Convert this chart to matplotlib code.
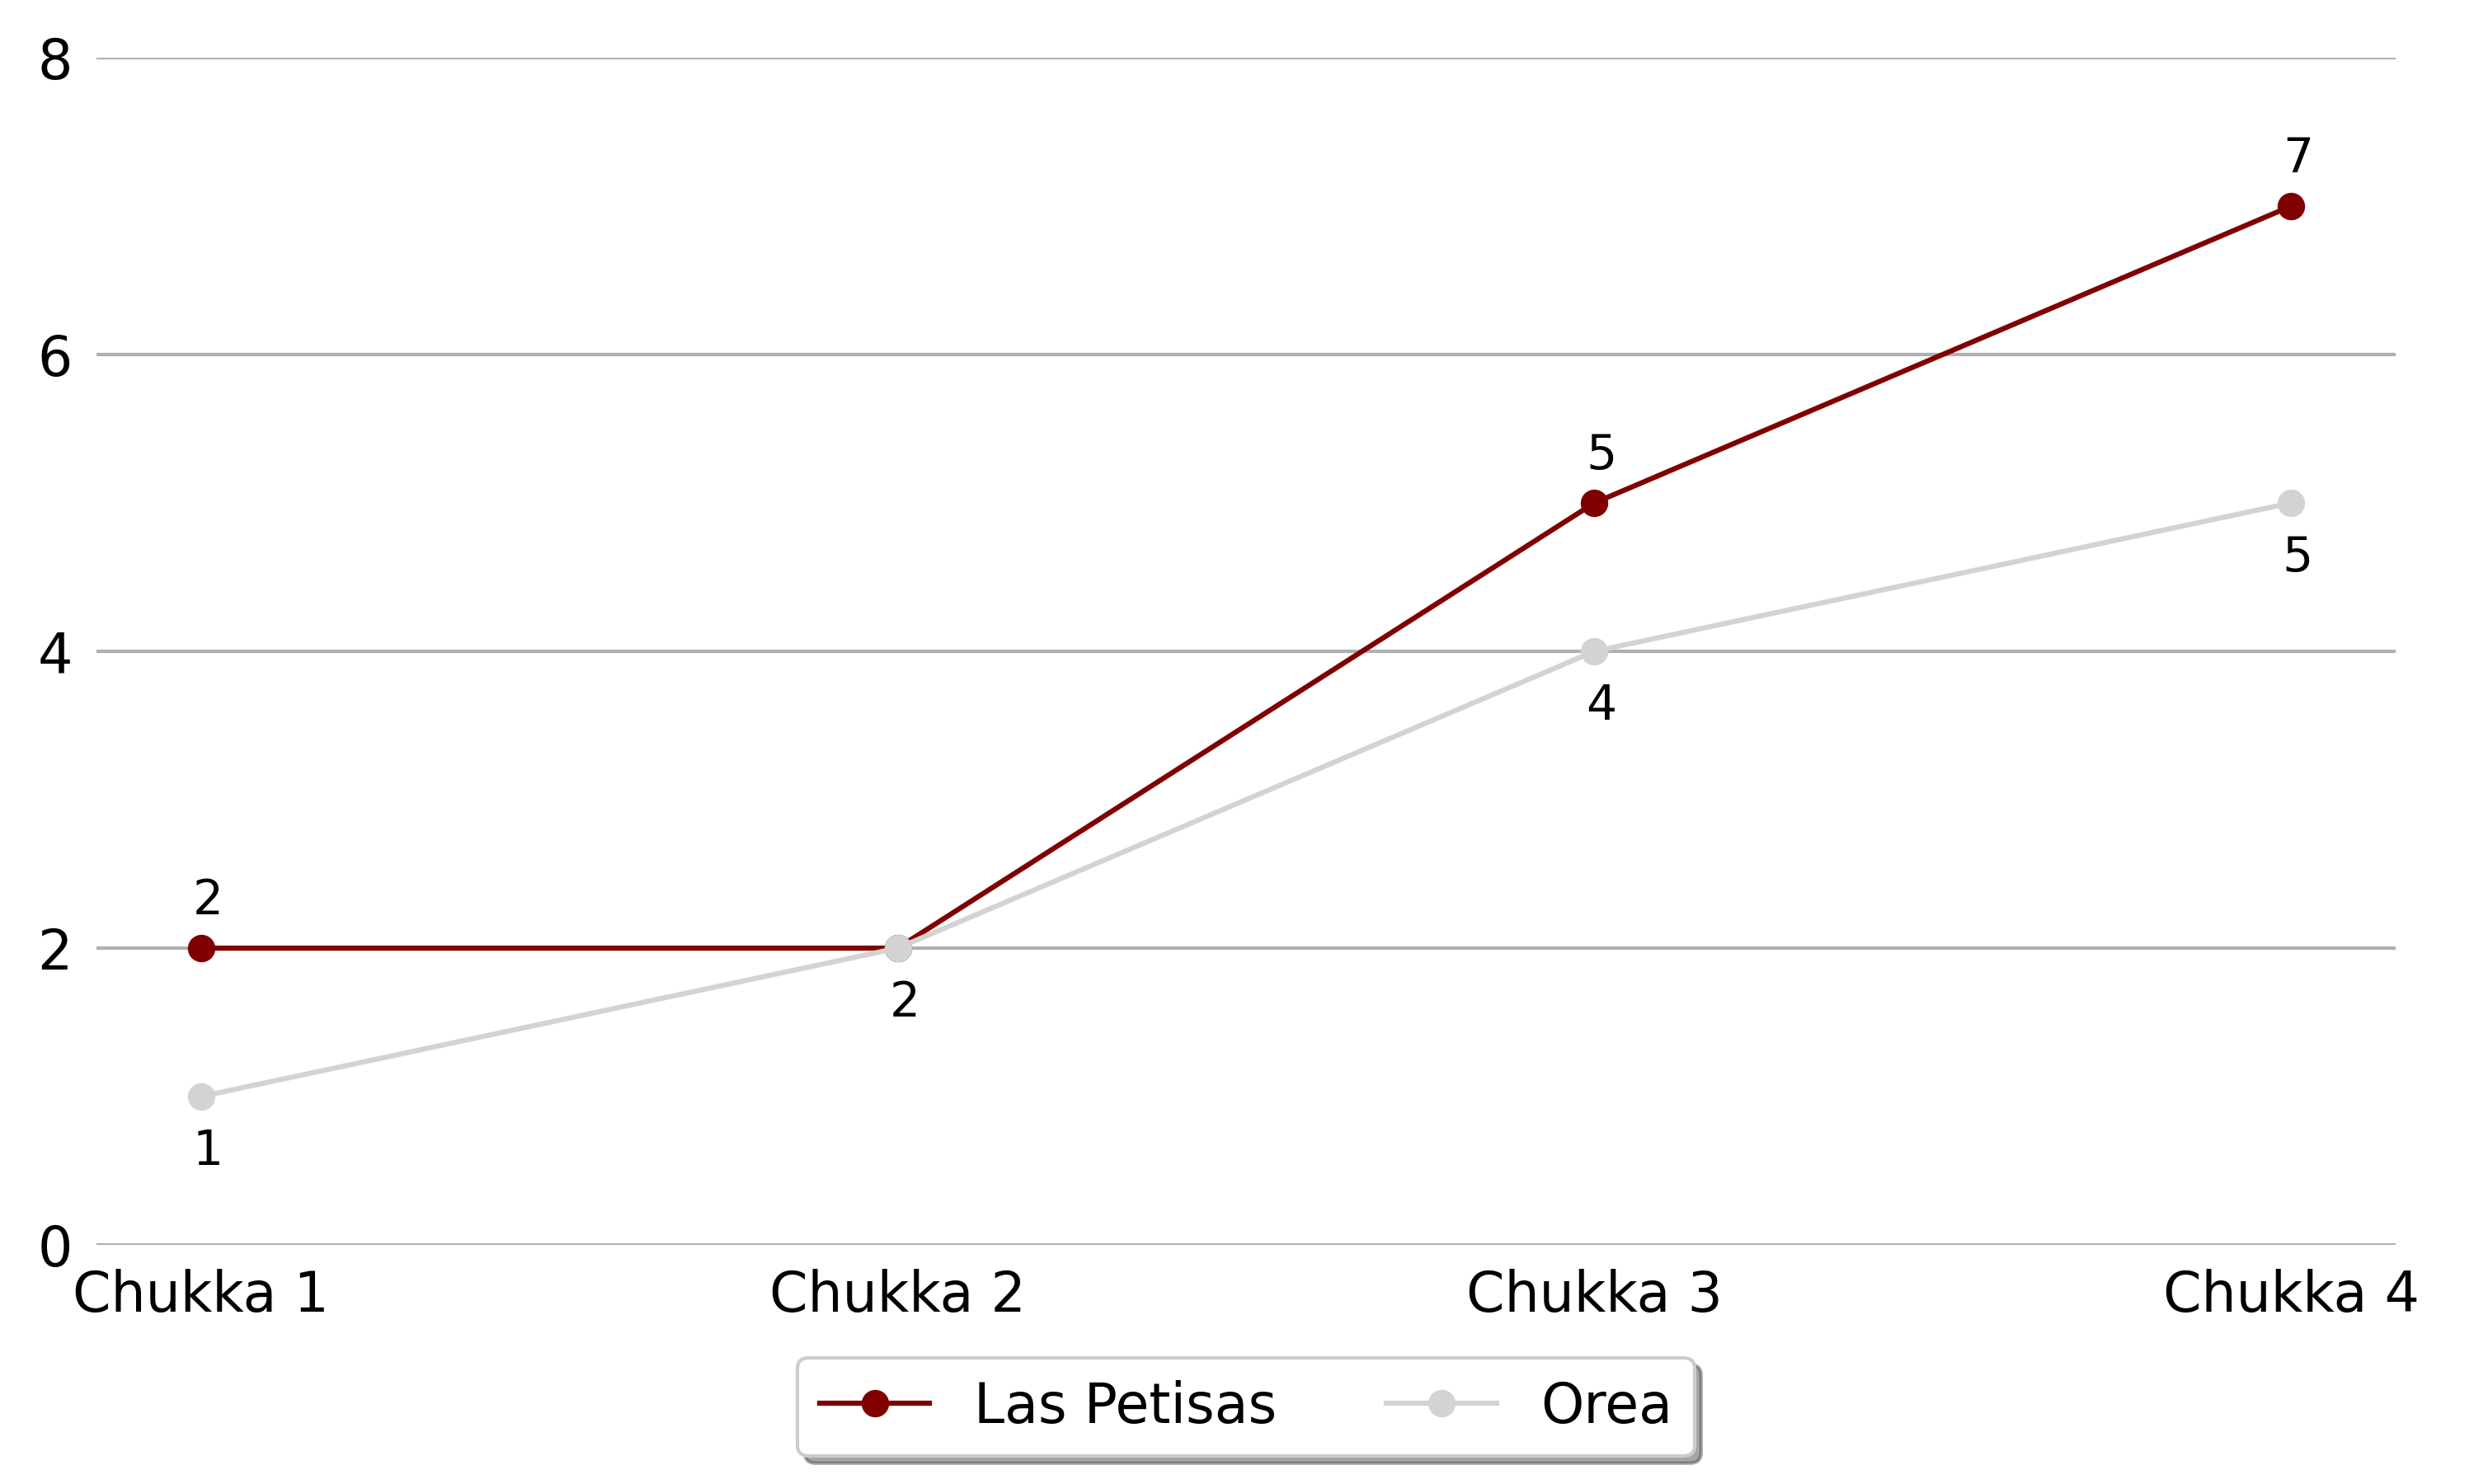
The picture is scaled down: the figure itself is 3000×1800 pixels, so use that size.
import matplotlib
matplotlib.use("Agg")
import matplotlib.pyplot as plt

chukkas = ["Chukka 1", "Chukka 2", "Chukka 3", "Chukka 4"]
las_petisas = [2, 2, 5, 7]
orea = [1, 2, 4, 5]

fig = plt.figure(figsize=(10, 6), dpi=300)
ax = fig.add_axes([0.039, 0.1611, 0.9293, 0.80])

x = list(range(len(chukkas)))
ax.plot(x, las_petisas, color="#800000", lw=1.5, marker="o", markersize=7, label="Las Petisas")
ax.plot(x, orea, color="lightgray", lw=1.5, marker="o", markersize=7, label="Orea")

# labels: Las Petisas above, Orea below (skip the tie)
for i in x:
    if las_petisas[i] != orea[i]:
        ax.annotate(str(las_petisas[i]), (i, las_petisas[i]), xytext=(2, 7),
                    textcoords="offset points", ha="center", va="bottom", fontsize=14)
    ax.annotate(str(orea[i]), (i, orea[i]), xytext=(2, -9),
                textcoords="offset points", ha="center", va="top", fontsize=14)

ax.set_xlim(-0.15, 3.15)
ax.set_ylim(0, 8)
ax.set_yticks([0, 2, 4, 6, 8])
ax.set_xticks(x)
ax.set_xticklabels(chukkas)
ax.tick_params(axis="both", length=0, pad=7, labelsize=16)
ax.grid(axis="y", color="#b0b0b0", lw=1.0)
ax.set_axisbelow(True)
for s in ax.spines.values():
    s.set_visible(False)

ax.legend(loc="upper center", bbox_to_anchor=(0.5, -0.072), ncol=2, shadow=True,
          fontsize=16)

fig.savefig("out.png", dpi=300)
